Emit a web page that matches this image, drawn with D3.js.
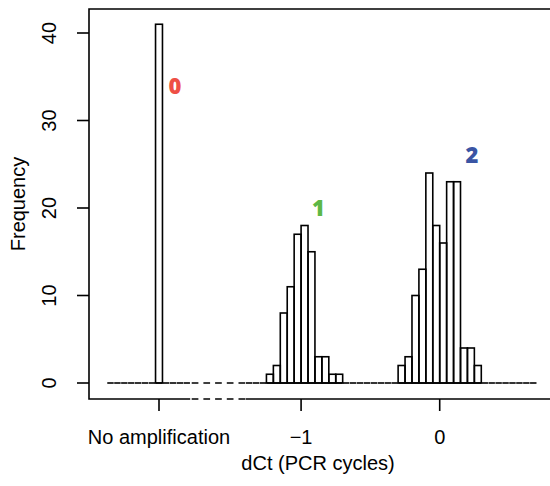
<!DOCTYPE html>
<html>
<head>
<meta charset="utf-8">
<script src="https://cdn.jsdelivr.net/npm/d3@7"></script>
<style>
  body { margin: 0; background: #fff; }
  svg { display: block; }
  .tick-label { font-family: "Liberation Sans", Arial, sans-serif; font-size: 20px; fill: #000; }
  .grp-label { font-family: "Open Sans", "Liberation Sans", sans-serif; font-weight: 800; font-size: 22px; }
</style>
</head>
<body>
<div id="chart"></div>
<script>
const width = 550
const height = 486

// --- Data ---
const binWidth = 0.05
// "No amplification" pseudo-position on the dCt axis, and its count
const noAmpPos = -2.05
const noAmpCount = 41
// left section of empty bins around the no amplification bar
const leftSection = [-2.40, -1.80]
// right section of the histogram (real dCt values)
const rightSection = [-1.40, 0.70]
// counts for the two clusters
const group1Start = -1.25
const group1Counts = [1, 2, 8, 11, 17, 18, 15, 3, 3, 1, 1]
const group2Start = -0.30
const group2Counts = [2, 3, 10, 13, 24, 18, 16, 23, 23, 4, 4, 2]

const yTicks = [0, 10, 20, 30, 40]
const xTickValues = [noAmpPos + binWidth / 2, -1, 0]
const xTickLabels = ["No amplification", "\u22121", "0"]

const groupLabels = ["0", "1", "2"]
const groupColors = ["#ee4f45", "#5db846", "#3a55a4"]
const groupLabelAt = [[-1.91, 33], [-0.875, 19.1], [0.232, 25.1]]

// build bins from the arrays above
const makeBins = (from, to) => {
  let n = Math.round((to - from) / binWidth)
  return d3.range(n).map(i => ({ x0: from + i * binWidth, x1: from + (i + 1) * binWidth, count: 0 }))
}
const binsLeft = makeBins(leftSection[0], leftSection[1])
binsLeft.forEach(b => { if (Math.abs(b.x0 - noAmpPos) < 1e-6) b.count = noAmpCount })
const binsRight = makeBins(rightSection[0], rightSection[1])
const fillCounts = (start, counts) => {
  counts.forEach((c, i) => {
    let x0 = start + i * binWidth
    let b = binsRight.find(d => Math.abs(d.x0 - x0) < 1e-6)
    if (b) b.count = c
  })
}
fillCounts(group1Start, group1Counts)
fillCounts(group2Start, group2Counts)
const allBins = binsLeft.concat(binsRight)

// --- Scales ---
const plotLeft = 89
const plotTop = 9
const axisY = 399

const xScale = d3.scaleLinear()
                 .domain([-2.53, 0.8])
                 .range([plotLeft, width + 0.6])

const yScale = d3.scaleLinear()
                 .domain([0, 40])
                 .range([383, 33])

const svg = d3.select("#chart")
              .append("svg")
                .attr("width", width)
                .attr("height", height)

// --- Bars ---
const bars = allBins.filter(d => d.count > 0)
svg.append("g")
   .selectAll("rect")
   .data(bars)
   .join("rect")
     .attr("x", d => xScale(d.x0))
     .attr("y", d => yScale(d.count))
     .attr("width", d => xScale(d.x1) - xScale(d.x0))
     .attr("height", d => yScale(0) - yScale(d.count))
     .attr("fill", "none")
     .attr("stroke", "#000")
     .attr("stroke-width", 1.6)

// empty bins show as a baseline made of short segments
svg.append("g")
   .selectAll("line")
   .data(allBins)
   .join("line")
     .attr("x1", d => xScale(d.x0) + 0.25)
     .attr("x2", d => xScale(d.x1) - 0.25)
     .attr("y1", yScale(0))
     .attr("y2", yScale(0))
     .attr("stroke", "#000")
     .attr("stroke-width", 1.6)

// broken part of the x range
svg.append("line")
   .attr("x1", xScale(leftSection[1]) + 1.5)
   .attr("x2", xScale(rightSection[0]))
   .attr("y1", yScale(0))
   .attr("y2", yScale(0))
   .attr("stroke", "#000")
   .attr("stroke-width", 1.6)
   .attr("stroke-dasharray", "6.7,5")

// --- Frame / axes ---
svg.append("path")
   .attr("d", `M${width},${plotTop}H${plotLeft}V${axisY}H${xScale(leftSection[1])}`)
   .attr("fill", "none")
   .attr("stroke", "#000")
   .attr("stroke-width", 1.6)

svg.append("line")
   .attr("x1", xScale(leftSection[1]) + 1.5)
   .attr("x2", xScale(rightSection[0]))
   .attr("y1", axisY)
   .attr("y2", axisY)
   .attr("stroke", "#000")
   .attr("stroke-width", 1.6)
   .attr("stroke-dasharray", "6.7,5")

svg.append("line")
   .attr("x1", xScale(rightSection[0]))
   .attr("x2", width)
   .attr("y1", axisY)
   .attr("y2", axisY)
   .attr("stroke", "#000")
   .attr("stroke-width", 1.6)

// x ticks
const xAxis = svg.append("g")
xAxis.selectAll("line")
     .data(xTickValues)
     .join("line")
       .attr("x1", d => xScale(d))
       .attr("x2", d => xScale(d))
       .attr("y1", axisY)
       .attr("y2", axisY + 12)
       .attr("stroke", "#000")
       .attr("stroke-width", 1.6)
xAxis.selectAll("text")
     .data(xTickValues)
     .join("text")
       .attr("class", "tick-label")
       .attr("x", d => xScale(d))
       .attr("y", 444)
       .attr("text-anchor", "middle")
       .text((d, i) => xTickLabels[i])

// y ticks
const yAxis = svg.append("g")
yAxis.selectAll("line")
     .data(yTicks)
     .join("line")
       .attr("x1", plotLeft - 12)
       .attr("x2", plotLeft)
       .attr("y1", d => yScale(d))
       .attr("y2", d => yScale(d))
       .attr("stroke", "#000")
       .attr("stroke-width", 1.6)
yAxis.selectAll("text")
     .data(yTicks)
     .join("text")
       .attr("class", "tick-label")
       .attr("transform", d => `translate(56, ${yScale(d)}) rotate(-90)`)
       .attr("text-anchor", "middle")
       .text(d => d)

// axis titles
svg.append("text")
   .attr("class", "tick-label")
   .attr("x", 318)
   .attr("y", 470)
   .attr("text-anchor", "middle")
   .text("dCt (PCR cycles)")

svg.append("text")
   .attr("class", "tick-label")
   .attr("transform", `translate(25, ${(plotTop + axisY) / 2}) rotate(-90)`)
   .attr("text-anchor", "middle")
   .text("Frequency")

// cluster labels
svg.append("g")
   .selectAll("text")
   .data(groupLabels)
   .join("text")
     .attr("class", "grp-label")
     .attr("x", (d, i) => xScale(groupLabelAt[i][0]))
     .attr("y", (d, i) => yScale(groupLabelAt[i][1]))
     .attr("text-anchor", "middle")
     .attr("fill", (d, i) => groupColors[i])
     .text(d => d)
</script>
</body>
</html>
